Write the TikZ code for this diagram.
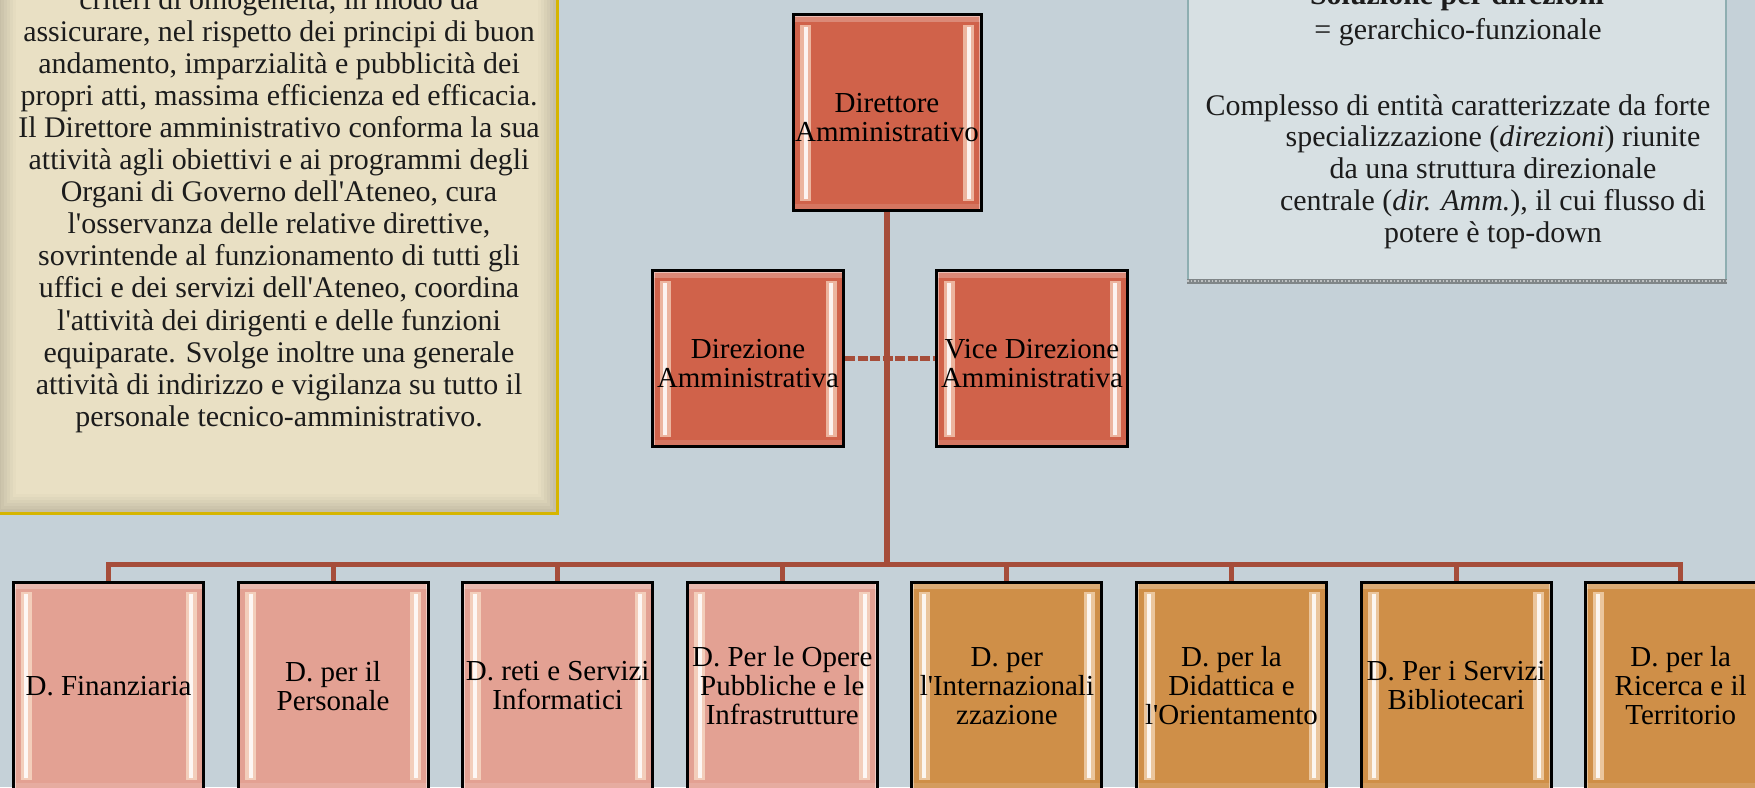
\documentclass[tikz,border=0pt]{standalone}
\usepackage{fontspec}
\setmainfont{Liberation Serif}
\usetikzlibrary{positioning,calc}
\definecolor{SlideBg}{RGB}{197,209,216}
\definecolor{Beige}{RGB}{233,224,196}
\definecolor{Gold}{RGB}{214,181,0}
\definecolor{Panel}{RGB}{215,224,227}
\definecolor{PanelEdge}{RGB}{142,174,177}
\definecolor{StripGray}{RGB}{128,134,136}
\definecolor{TopRed}{RGB}{208,98,74}
\definecolor{PinkBox}{RGB}{227,161,147}
\definecolor{OrangeBox}{RGB}{207,143,72}
\definecolor{LinkRed}{RGB}{166,77,58}
\definecolor{TextBlack}{RGB}{28,28,28}
\definecolor{Glow}{RGB}{255,236,214}
\newcommand{\bodyfont}{\fontsize{8.52}{9.1}\selectfont}
\newcommand{\boxfont}{\fontsize{8.25}{8.25}\selectfont}
\newcommand{\ap}{\textquotesingle}

\tikzset{
  bevel/.style={path picture={
    \coordinate (nw) at (path picture bounding box.north west);
    \coordinate (se) at (path picture bounding box.south east);
    % light rim and top band
    \draw[white, opacity=.45, line width=0.04cm] (nw) rectangle (se);
    \fill[white, opacity=.25] (nw) rectangle ($(nw -| se)+(0,-0.07)$);
    \fill[white, opacity=.12] ($(nw |- se)+(0,0.07)$) rectangle (se);
    % side highlights
    \fill[Glow, opacity=.6] ($(nw)+(0.07,-0.1)$) rectangle ($(nw |- se)+(0.18,0.1)$);
    \fill[white, opacity=.85] ($(nw)+(0.105,-0.12)$) rectangle ($(nw |- se)+(0.145,0.12)$);
    \fill[Glow, opacity=.6] ($(se |- nw)+(-0.18,-0.1)$) rectangle ($(se)+(-0.07,0.1)$);
    \fill[white, opacity=.85] ($(se |- nw)+(-0.145,-0.12)$) rectangle ($(se)+(-0.105,0.12)$);
  }},
  orgbox/.style={draw=black, line width=0.85pt, inner sep=0pt, align=center,
    text=black, font=\boxfont, bevel},
  toplabel/.style={align=center, text=black, font=\boxfont, inner sep=0pt, yshift=-0.05cm},
  bodytext/.style={inner sep=0pt, text=TextBlack, font=\bodyfont, anchor=base},
  link/.style={draw=LinkRed, line width=1.45pt},
}

\begin{document}
\begin{tikzpicture}
  \useasboundingbox (0,0) rectangle (17.55,-7.87);
  \clip (0,0) rectangle (17.55,-7.87);
  \fill[SlideBg] (0,0) rectangle (17.55,-7.87);

  % Left text panel
  \fill[Beige] (-0.03,0.1) rectangle (5.57,-5.135);
  \foreach \k [evaluate=\k as \op using 0.17-0.026*\k] in {1,...,6}
    \draw[black, opacity=\op, line width=0.03cm]
      ({-0.03+0.03*\k},0.1) rectangle ({5.57-0.03*\k},{-5.135+0.03*\k});
  \draw[Gold, line width=0.03cm] (-0.03,0.1) rectangle (5.57,-5.135);
  \foreach \t [count=\k] in {
      {criteri di omogeneità, in modo da},
      {assicurare, nel rispetto dei principi di buon},
      {andamento, imparzialità e pubblicità dei},
      {propri atti, massima efficienza ed efficacia.},
      {Il Direttore amministrativo conforma la sua},
      {attività agli obiettivi e ai programmi degli},
      {Organi di Governo dell\ap Ateneo, cura},
      {l\ap osservanza delle relative direttive,},
      {sovrintende al funzionamento di tutti gli},
      {uffici e dei servizi dell\ap Ateneo, coordina},
      {l\ap attività dei dirigenti e delle funzioni},
      {equiparate. Svolge inoltre una generale},
      {attività di indirizzo e vigilanza su tutto il},
      {personale tecnico-amministrativo.}}
    \node[bodytext] (t\k) at (2.79,{-0.097-0.3203*(\k-1)}) {\t};

  % Right text panel
  \fill[Panel] (11.88,0.1) rectangle (17.26,-2.785);
  \draw[PanelEdge, line width=0.02cm] (11.88,0.1) -- (11.88,-2.785)
    (17.26,0.1) -- (17.26,-2.785);
  \fill[StripGray] (11.87,-2.785) rectangle (17.27,-2.84);
  \draw[white, opacity=.5, line width=0.015cm, dash pattern=on 0.015cm off 0.02cm]
    (11.87,-2.812) -- (17.27,-2.812);
  \node[bodytext, font=\bodyfont\bfseries] (title) at (14.57,-0.045) {Soluzione per direzioni};
  \node[bodytext] (kind) at (14.58,-0.393) {= gerarchico-funzionale};
  \node[bodytext] (desc) at (14.58,-1.15) {Complesso di entità caratterizzate da forte};
  \foreach \t [count=\k] in {
      {specializzazione (\textit{direzioni}) riunite},
      {da una struttura direzionale},
      {centrale (\textit{dir. Amm.}), il cui flusso di},
      {potere è top-down}}
    \node[bodytext] (dline\k) at (14.93,{-1.467-0.318*(\k-1)}) {\t};

  % Top of the chart
  \node[orgbox, fill=TopRed, minimum width=1.88cm, minimum height=1.96cm,
    label={[toplabel]center:Direttore\\Amministrativo}] (dir) at (8.87,-1.125) {};
  \node[orgbox, fill=TopRed, minimum width=1.91cm, minimum height=1.76cm,
    label={[toplabel]center:Direzione\\Amministrativa}] (dirA) at (7.48,-3.585) {};
  \node[orgbox, fill=TopRed, minimum width=1.91cm, minimum height=1.76cm,
    label={[toplabel]center:Vice Direzione\\Amministrativa}] (vice) at (10.32,-3.585) {};

  % Direzioni
  \foreach \lab/\col [count=\i] in {
      {D. Finanziaria}/PinkBox,
      {D. per il\\Personale}/PinkBox,
      {D. reti e Servizi\\Informatici}/PinkBox,
      {D. Per le Opere\\Pubbliche e le\\Infrastrutture}/PinkBox,
      {D. per\\l\ap Internazionali\\zzazione}/OrangeBox,
      {D. per la\\Didattica e\\l\ap Orientamento}/OrangeBox,
      {D. Per i Servizi\\Bibliotecari}/OrangeBox,
      {D. per la\\Ricerca e il\\Territorio}/OrangeBox}
    \node[orgbox, fill=\col, minimum width=1.90cm, minimum height=2.08cm] (d\i) at ({1.085+2.246*(\i-1)},-6.86) {\lab};

  % Connectors
  \coordinate (bus) at ($(d1.north)+(0,0.16)$);
  \draw[link] (dir.south) -- (dir.south |- bus);
  \draw[link] (d1.north) -- (bus) -- (bus -| d8.north) -- (d8.north);
  \foreach \i in {2,...,7}
    \draw[link] (d\i.north) -- (d\i.north |- bus);
  \draw[link, dash pattern=on 0.1cm off 0.025cm] (dirA.east) -- (vice.west);
\end{tikzpicture}
\end{document}
